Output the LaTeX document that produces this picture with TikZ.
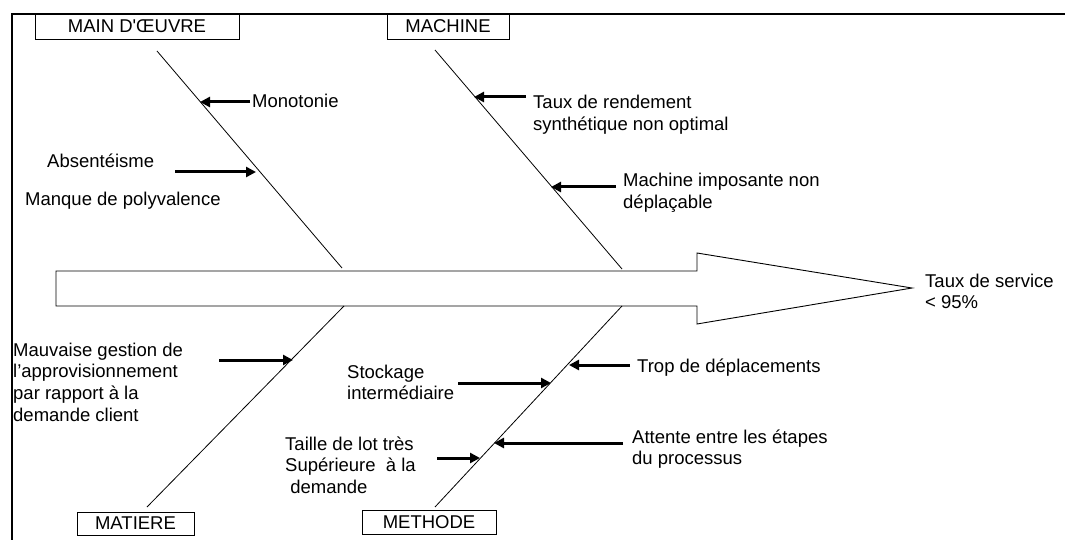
\documentclass[tikz,border=0pt]{standalone}
\usepackage{fontspec}
\setmainfont{Liberation Sans}[Ligatures=TeXOff]
\usetikzlibrary{arrows.meta}
\newcommand{\lbfont}{\fontsize{18.5}{21.8}\selectfont\setbox\strutbox\hbox{\vrule height 16pt depth 5.8pt width 0pt}}
\begin{document}
\begin{tikzpicture}[x=1pt,y=-1pt,
  txt/.style={anchor=base west, inner sep=0pt, font=\lbfont},
  catbox/.style={draw, line width=0.9pt, inner sep=0pt, font=\lbfont, fill=white},
  bone/.style={line width=0.8pt},
  cause/.style={line width=3pt, -{Triangle[length=10pt,width=10pt]}},
  frameline/.style={line width=2pt}]
\useasboundingbox (0,0) rectangle (1065,540);
% frame
\coordinate (fr1) at (1065,14);
\coordinate (fr2) at (12,14);
\coordinate (fr3) at (12,540);
\draw[frameline] (fr1) -- (fr2) -- (fr3);
% main arrow
\coordinate (tip) at (912,288);
\draw[line width=0.9pt] (56,271) -- (697,271) -- (697,253) -- (tip) -- (697,324) -- (697,306) -- (56,306) -- cycle;
% category boxes
\node[catbox, minimum width=204pt, minimum height=25pt] (mo) at (137,26.5) {MAIN D'ŒUVRE};
\node[catbox, minimum width=122pt, minimum height=25pt] (ma) at (448,26.5) {MACHINE};
\node[catbox, minimum width=117pt, minimum height=23pt] (mt) at (135.5,523.5) {MATIERE};
\node[catbox, minimum width=134pt, minimum height=24pt] (me) at (429,522) {METHODE};
% bones
\coordinate (moA) at (157,51);  \coordinate (moB) at (342,268);
\coordinate (maA) at (435,50);  \coordinate (maB) at (622,269);
\coordinate (mtA) at (344,306); \coordinate (mtB) at (147,507);
\coordinate (meA) at (622,306); \coordinate (meB) at (435,507);
\draw[bone] (moA) -- (moB);
\draw[bone] (maA) -- (maB);
\draw[bone] (mtA) -- (mtB);
\draw[bone] (meA) -- (meB);
% effect
\node[txt] (eff) at (925,287) {\begin{tabular}[t]{@{}l@{}}Taux de service\\< 95\%\end{tabular}};
% causes - main d'oeuvre
\node[txt] (c1) at (252,108) {Monotonie};
\node[txt] (c2) at (47,168) {Absentéisme};
\node[txt] (c3) at (25,205) {Manque de polyvalence};
\coordinate (c1a) at (250,102); \coordinate (c1b) at (200,102);
\coordinate (c2a) at (175,172); \coordinate (c2b) at (256,172);
\draw[cause] (c1a) -- (c1b);
\draw[cause] (c2a) -- (c2b);
% causes - machine
\node[txt] (c4) at (533,109) {\begin{tabular}[t]{@{}l@{}}Taux de rendement\\synthétique non optimal\end{tabular}};
\node[txt] (c5) at (623,187) {\begin{tabular}[t]{@{}l@{}}Machine imposante non\\déplaçable\end{tabular}};
\coordinate (c4a) at (526,97);  \coordinate (c4b) at (474,97);
\coordinate (c5a) at (616,187); \coordinate (c5b) at (551,187);
\draw[cause] (c4a) -- (c4b);
\draw[cause] (c5a) -- (c5b);
% causes - matiere
\node[txt] (c6) at (13,356) {\begin{tabular}[t]{@{}l@{}}Mauvaise gestion de\\l’approvisionnement\\par rapport à la\\demande client\end{tabular}};
\coordinate (c6a) at (219,360); \coordinate (c6b) at (293,360);
\draw[cause] (c6a) -- (c6b);
% causes - methode
\node[txt] (c7) at (347,378) {\begin{tabular}[t]{@{}l@{}}Stockage\\intermédiaire\end{tabular}};
\node[txt] (c8) at (637,372) {Trop de déplacements};
\node[txt] (c9) at (285,450) {\begin{tabular}[t]{@{}l@{}}Taille de lot très\\Supérieure\ \ à la\\\ demande\end{tabular}};
\node[txt] (c10) at (632,443) {\begin{tabular}[t]{@{}l@{}}Attente entre les étapes\\du processus\end{tabular}};
\coordinate (c7a) at (458,383); \coordinate (c7b) at (551,383);
\coordinate (c8a) at (630,365); \coordinate (c8b) at (569,365);
\coordinate (c9a) at (437,458); \coordinate (c9b) at (480,458);
\coordinate (c10a) at (623,443); \coordinate (c10b) at (494,443);
\draw[cause] (c7a) -- (c7b);
\draw[cause] (c8a) -- (c8b);
\draw[cause] (c9a) -- (c9b);
\draw[cause] (c10a) -- (c10b);
\end{tikzpicture}
\end{document}
